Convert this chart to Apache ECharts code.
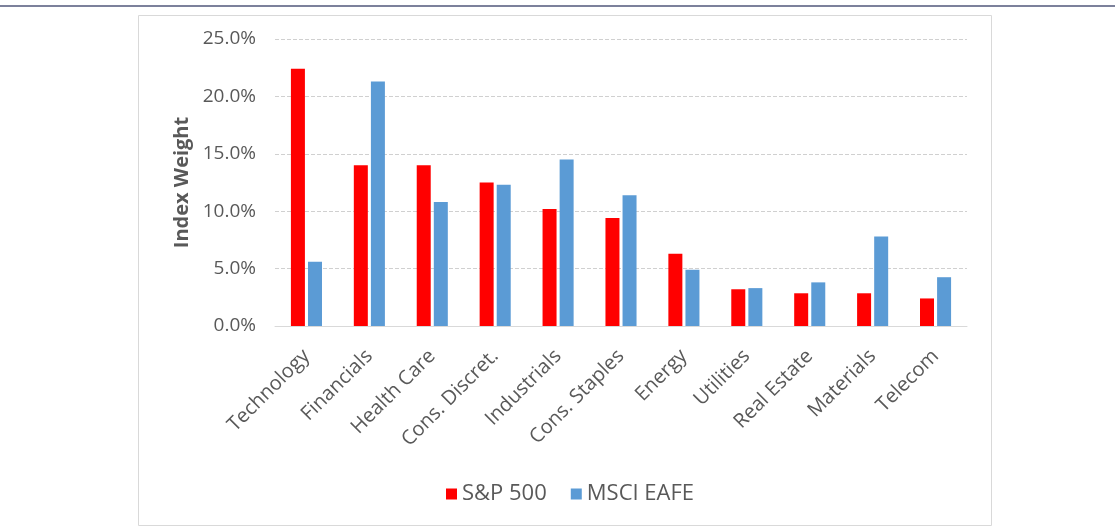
<!DOCTYPE html>
<html>
<head>
<meta charset="utf-8">
<script src="https://cdn.jsdelivr.net/npm/echarts/dist/echarts.min.js"></script>
<style>
  html, body { margin: 0; padding: 0; background: #fff; }
  #chart { width: 1115px; height: 530px; }
</style>
</head>
<body>
<div id="chart"></div>
<script>
// sectors on the x axis
const sectors = ['Technology', 'Financials', 'Health Care', 'Cons. Discret.', 'Industrials',
  'Cons. Staples', 'Energy', 'Utilities', 'Real Estate', 'Materials', 'Telecom']
// index weights in %
const sp500 = [22.4, 14.0, 14.0, 12.5, 10.2, 9.4, 6.3, 3.2, 2.85, 2.85, 2.4]
const eafe = [5.6, 21.3, 10.8, 12.3, 14.5, 11.4, 4.9, 3.3, 3.8, 7.8, 4.25]
const seriesNames = ['S&P 500', 'MSCI EAFE']

const font = '"Open Sans", sans-serif'
const textColor = '#595959'

const chart = echarts.init(document.getElementById('chart'))
const option = {
  animation: false,
  color: ['#ff0000', '#5b9bd5'],
  graphic: [
    { // top rule
      type: 'line',
      shape: { x1: 0, y1: 6, x2: 1115, y2: 6 },
      style: { stroke: '#7c819b', lineWidth: 2 }
    },
    { // chart frame
      type: 'rect',
      shape: { x: 138.5, y: 15.5, width: 853, height: 510 },
      style: { fill: 'none', stroke: '#d9d9d9', lineWidth: 1 }
    }
  ],
  grid: { left: 275, right: 148, top: 39, bottom: 204 },
  legend: {
    data: seriesNames,
    left: 441,
    top: 478,
    itemWidth: 11,
    itemHeight: 11,
    itemGap: 24,
    icon: 'rect',
    textStyle: { fontFamily: font, fontSize: 22, color: textColor }
  },
  xAxis: {
    type: 'category',
    data: sectors,
    axisLine: { lineStyle: { color: '#d9d9d9' } },
    axisTick: { show: false },
    axisLabel: {
      interval: 0,
      rotate: 45,
      margin: 27,
      fontFamily: font,
      fontSize: 20,
      color: textColor
    }
  },
  yAxis: {
    type: 'value',
    min: 0,
    max: 25,
    interval: 5,
    name: 'Index Weight',
    nameLocation: 'middle',
    nameGap: 66,
    nameTextStyle: { fontFamily: font, fontSize: 20, fontWeight: 'bold', color: textColor },
    axisLine: { show: false },
    axisTick: { show: false },
    splitLine: { lineStyle: { color: '#d0d0d0', type: [4, 2] } },
    axisLabel: {
      margin: 19,
      fontFamily: font,
      fontSize: 19,
      color: textColor,
      formatter: v => v.toFixed(1) + '%'
    }
  },
  series: [
    { name: seriesNames[0], type: 'bar', data: sp500, barWidth: 14, barGap: '22%' },
    { name: seriesNames[1], type: 'bar', data: eafe, barWidth: 14, barGap: '22%' }
  ]
}
chart.setOption(option)
</script>
</body>
</html>
